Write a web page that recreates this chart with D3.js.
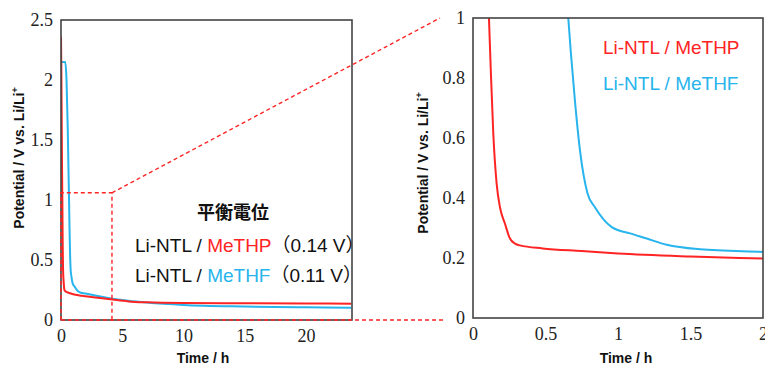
<!DOCTYPE html>
<html>
<head>
<meta charset="utf-8">
<script src="https://cdn.jsdelivr.net/npm/d3@7"></script>
<style>
  body { margin: 0; background: #fff; }
  svg { display: block; }
</style>
</head>
<body>
<svg width="765" height="365"></svg>
<script>
// values (time in h, potential in V vs Li/Li+)
var timeMeTHP = [0, 0.03, 0.06, 0.09, 0.11, 0.122, 0.14, 0.163, 0.186, 0.22, 0.255, 0.29, 0.324, 0.48, 0.75, 1, 1.5, 2, 3, 4.2, 5.5, 7, 10, 15, 20, 23.7];
var potMeTHP  = [2.36, 2.05, 1.6, 1.2, 1.0, 0.835, 0.614, 0.448, 0.369, 0.315, 0.265, 0.248, 0.242, 0.232, 0.223, 0.215, 0.205, 0.198, 0.185, 0.17, 0.155, 0.147, 0.141, 0.139, 0.137, 0.136];

var timeMeTHF = [0, 0.03, 0.35, 0.45, 0.55, 0.62, 0.657, 0.674, 0.703, 0.738, 0.79, 0.84, 0.957, 1.083, 1.198, 1.336, 1.566, 2, 3, 4.2, 5.5, 7, 10, 15, 20, 23.7];
var potMeTHF  = [2.1, 2.15, 2.15, 2.0, 1.6, 1.2, 1.0, 0.89, 0.724, 0.558, 0.415, 0.37, 0.303, 0.282, 0.265, 0.244, 0.229, 0.22, 0.2, 0.178, 0.16, 0.145, 0.125, 0.112, 0.106, 0.103];

var leftXTicks = [0, 5, 10, 15, 20];
var leftYTicks = [0, 0.5, 1, 1.5, 2, 2.5];
var rightXTicks = [0, 0.5, 1, 1.5, 2];
var rightYTicks = [0, 0.2, 0.4, 0.6, 0.8, 1];

var red = '#ff2424';
var blue = '#28b4ec';
var sans = '"Liberation Sans", Arial, sans-serif';
var serif = '"Liberation Serif"';

var svg = d3.select('svg');

var meTHP = timeMeTHP.map((t, i) => [t, potMeTHP[i]]);
var meTHF = timeMeTHF.map((t, i) => [t, potMeTHF[i]]);

// left panel: whole run, right panel: first 2 hours
var xL = d3.scaleLinear().domain([0, 23.75]).range([61, 352]);
var yL = d3.scaleLinear().domain([0, 2.5]).range([320, 20]);
var xR = d3.scaleLinear().domain([0, 2]).range([473, 763]);
var yR = d3.scaleLinear().domain([0, 1]).range([318, 18]);

var defs = svg.append('defs');
defs.append('clipPath').attr('id', 'clipL').append('rect')
    .attr('x', xL(0)).attr('y', yL(2.5)).attr('width', xL(23.75) - xL(0)).attr('height', yL(0) - yL(2.5));
defs.append('clipPath').attr('id', 'clipR').append('rect')
    .attr('x', xR(0)).attr('y', yR(1)).attr('width', xR(2) - xR(0)).attr('height', yR(0) - yR(1));

function panel(x, y, xTicks, yTicks, clip, yPad) {
    var g = svg.append('g');
    var line = d3.line().x(d => x(d[0])).y(d => y(d[1])).curve(d3.curveMonotoneX);
    var lines = g.append('g').attr('clip-path', 'url(#' + clip + ')');
    lines.append('path').datum(meTHF).attr('d', line)
        .attr('fill', 'none').attr('stroke', blue).attr('stroke-width', 2);
    lines.append('path').datum(meTHP).attr('d', line)
        .attr('fill', 'none').attr('stroke', red).attr('stroke-width', 2);

    g.append('rect')
        .attr('x', x.range()[0]).attr('y', y.range()[1])
        .attr('width', x.range()[1] - x.range()[0]).attr('height', y.range()[0] - y.range()[1])
        .attr('fill', 'none').attr('stroke', '#444').attr('stroke-width', 1.6);

    var ax = g.append('g').attr('transform', 'translate(0,' + y.range()[0] + ')')
        .call(d3.axisBottom(x).tickValues(xTicks).tickSize(0).tickPadding(9).tickFormat(d3.format('')));
    var ay = g.append('g').attr('transform', 'translate(' + x.range()[0] + ',0)')
        .call(d3.axisLeft(y).tickValues(yTicks).tickSize(0).tickPadding(yPad).tickFormat(d3.format('')));
    [ax, ay].forEach(a => {
        a.select('.domain').remove();
        a.attr('font-family', serif).attr('font-size', 18);
        a.selectAll('text').style('font-family', serif).style('font-size', '18px').attr('fill', '#222');
    });
    return g;
}

panel(xL, yL, leftXTicks, leftYTicks, 'clipL', 8);
panel(xR, yR, rightXTicks, rightYTicks, 'clipR', 8);

// axis titles
function yTitle(cx, cy) {
    var t = svg.append('text')
        .attr('transform', 'translate(' + cx + ',' + cy + ') rotate(-90)')
        .attr('text-anchor', 'middle')
        .attr('font-family', sans)
        .attr('font-weight', 'bold').attr('font-size', 14).attr('fill', '#111');
    t.append('tspan').text('Potential / V vs. Li/Li');
    t.append('tspan').attr('dy', -6).attr('font-size', 9).text('+');
}
yTitle(24, 158);
yTitle(428, 163);

function xTitle(cx) {
    svg.append('text').attr('x', cx).attr('y', 363)
        .attr('text-anchor', 'middle')
        .attr('font-family', sans)
        .attr('font-weight', 'bold').attr('font-size', 14).attr('fill', '#111')
        .text('Time / h');
}
xTitle(203);
xTitle(626);

// zoom box and connector lines
var zoomT = 4.16, zoomV = 1.06;
var dash = svg.append('g').attr('fill', 'none').attr('stroke', red)
    .attr('stroke-width', 1.4).attr('stroke-dasharray', '4,3');
dash.append('path').attr('d', d3.line()([
    [xL(0), yL(0)], [xL(0), yL(zoomV)], [xL(zoomT), yL(zoomV)], [xL(zoomT), yL(0)]
]));
dash.append('line').attr('x1', xL(0)).attr('y1', yL(0)).attr('x2', xR(0) - 28).attr('y2', yL(0));
dash.append('line').attr('x1', xL(zoomT)).attr('y1', yL(zoomV)).attr('x2', xR(0) - 33).attr('y2', yR(1));

// text in left panel
svg.append('text').attr('x', 233).attr('y', 219).attr('text-anchor', 'middle')
    .attr('font-family', '"Noto Sans CJK JP", sans-serif').attr('font-weight', 'bold')
    .attr('font-size', 18).attr('fill', '#111').text('平衡電位');

var legendRows = [
    { name: 'MeTHP', color: red, value: '0.14 V', y: 252 },
    { name: 'MeTHF', color: blue, value: '0.11 V', y: 282 }
];
legendRows.forEach(r => {
    var t = svg.append('text').attr('x', 135).attr('y', r.y)
        .attr('font-family', sans)
        .attr('font-size', 19).attr('fill', '#111');
    t.append('tspan').text('Li-NTL / ');
    t.append('tspan').attr('fill', r.color).text(r.name);
    t.append('tspan').attr('font-family', '"Noto Sans CJK JP", sans-serif').text('（');
    t.append('tspan').text(r.value);
    t.append('tspan').attr('font-family', '"Noto Sans CJK JP", sans-serif').text('）');
});

// legend in right panel
[{ name: 'Li-NTL / MeTHP', color: red, y: 54 }, { name: 'Li-NTL / MeTHF', color: blue, y: 90 }].forEach(r => {
    svg.append('text').attr('x', 603).attr('y', r.y)
        .attr('font-family', sans)
        .attr('font-size', 19).attr('fill', r.color).text(r.name);
});
</script>
</body>
</html>
